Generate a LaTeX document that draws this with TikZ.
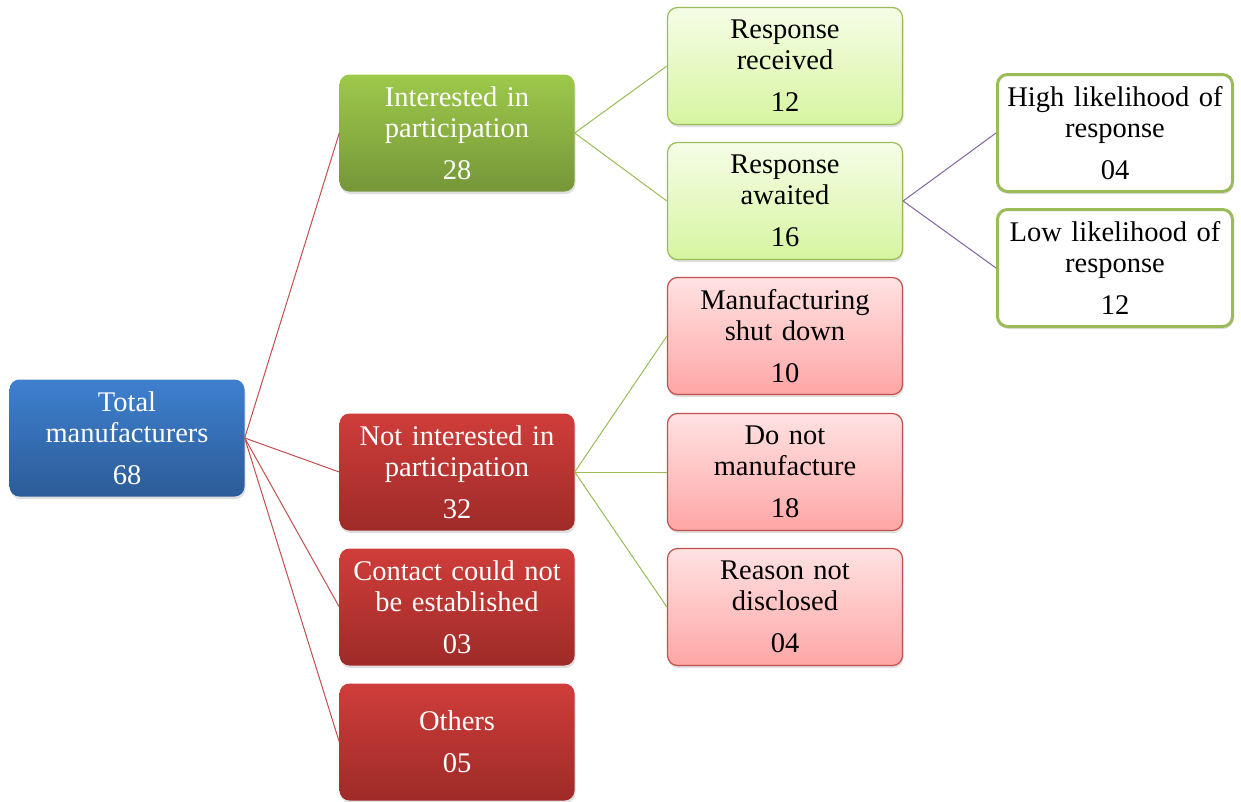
\documentclass[tikz,border=0pt]{standalone}
\usepackage{fontspec}
\setmainfont{Liberation Serif}
\usetikzlibrary{shadows}
\definecolor{redline}{HTML}{C0504D}
\definecolor{greenline}{HTML}{9BBB59}
\definecolor{purpleline}{HTML}{8064A2}
\tikzset{box/.style = {rounded corners = 10pt, minimum width = 235pt, minimum height = 117pt,
    text width = 232pt, align = center, inner sep = 0, font = \fontsize{28.5}{31}\selectfont,
    drop shadow = {shadow xshift = 1pt, shadow yshift = -2.5pt, opacity = 0.25}}}
\tikzset{bluebox/.style = {box, text = white, top color = {rgb,255:red,62;green,128;blue,207}, bottom color = {rgb,255:red,44;green,92;blue,152}}}
\tikzset{greenbox/.style = {box, text = white, top color = {rgb,255:red,157;green,201;blue,74}, bottom color = {rgb,255:red,118;green,150;blue,57}}}
\tikzset{redbox/.style = {box, text = white, top color = {rgb,255:red,207;green,61;blue,58}, bottom color = {rgb,255:red,158;green,43;blue,40}}}
\tikzset{lightbox/.style = {box, draw = greenline, line width = 1.2pt, top color = {rgb,255:red,246;green,253;blue,230}, bottom color = {rgb,255:red,214;green,245;blue,160}}}
\tikzset{pinkbox/.style = {box, draw = redline, line width = 1.2pt, top color = {rgb,255:red,255;green,226;blue,226}, bottom color = {rgb,255:red,255;green,166;blue,166}}}
\tikzset{whitebox/.style = {box, draw = greenline, line width = 3pt, fill = white, drop shadow = {opacity = 0}}}
\tikzset{link/.style = {line width = 1pt}}

\begin{document}
\begin{tikzpicture}[x = 1pt, y = -1pt]
  \useasboundingbox (0, 0) rectangle (1241, 801);

  \node[bluebox] (total) at (127, 438) {Total\\manufacturers\\[11pt]68};

  \node[greenbox] (intr) at (457, 133) {Interested in\\participation\\[11pt]28};
  \node[redbox] (notintr) at (457, 472) {Not interested in\\participation\\[11pt]32};
  \node[redbox] (contact) at (457, 607) {Contact could not\\be established\\[11pt]03};
  \node[redbox] (others) at (457, 742) {Others\\[11pt]05};

  \node[lightbox] (recv) at (785, 66) {Response\\received\\[11pt]12};
  \node[lightbox] (await) at (785, 201) {Response\\awaited\\[11pt]16};
  \node[pinkbox] (shut) at (785, 336) {Manufacturing\\shut down\\[11pt]10};
  \node[pinkbox] (nomfg) at (785, 472) {Do not\\manufacture\\[11pt]18};
  \node[pinkbox] (reason) at (785, 607) {Reason not\\disclosed\\[11pt]04};

  \node[whitebox] (high) at (1115, 133) {High likelihood of\\response\\[11pt]04};
  \node[whitebox] (low) at (1115, 268) {Low likelihood of\\response\\[11pt]12};

  \foreach \n in {intr, notintr, contact, others}
    \draw[link, redline] (total.east) -- (\n.west);
  \foreach \n in {recv, await}
    \draw[link, greenline] (intr.east) -- (\n.west);
  \foreach \n in {shut, nomfg, reason}
    \draw[link, greenline] (notintr.east) -- (\n.west);
  \foreach \n in {high, low}
    \draw[link, purpleline] (await.east) -- (\n.west);
\end{tikzpicture}
\end{document}
